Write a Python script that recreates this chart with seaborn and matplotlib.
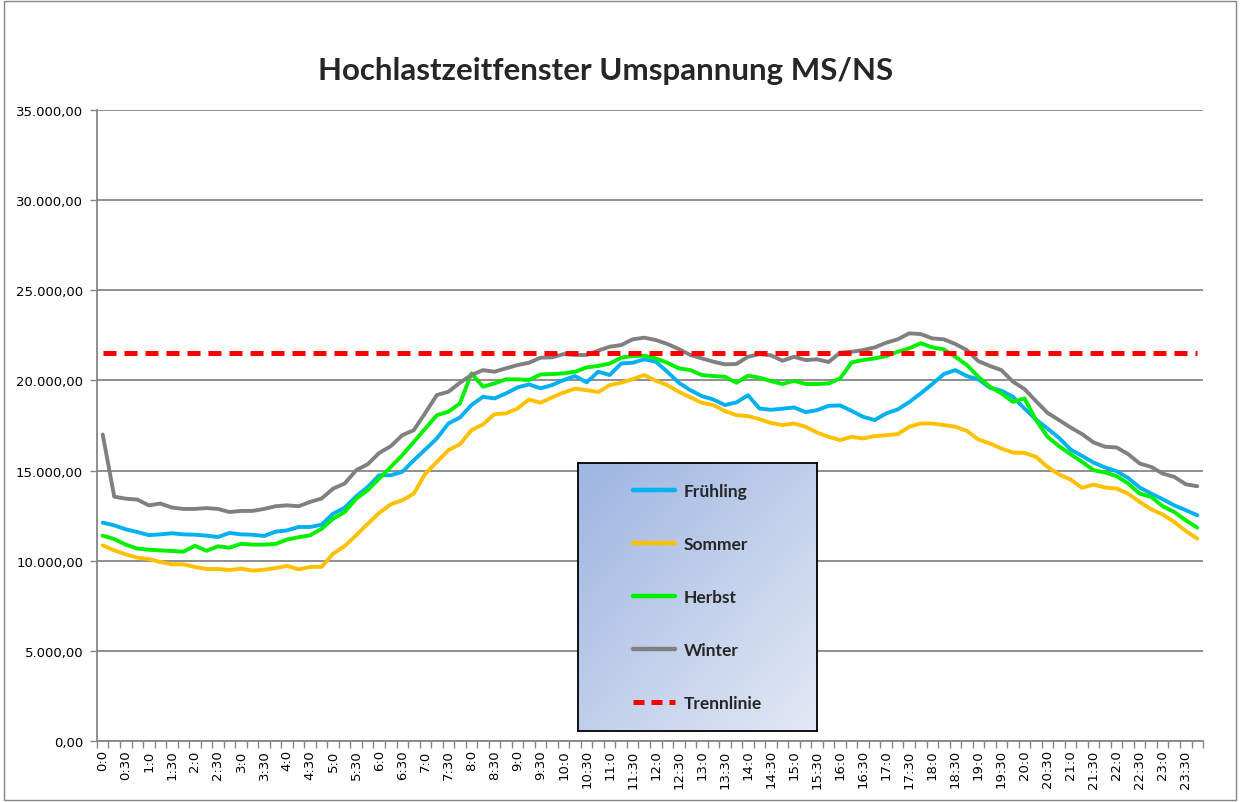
import numpy as np
import pandas as pd
import matplotlib
matplotlib.use('Agg')
import matplotlib.pyplot as plt
import seaborn as sns
from matplotlib.ticker import FuncFormatter, FixedLocator
from matplotlib.lines import Line2D
from matplotlib.colors import LinearSegmentedColormap
from matplotlib.patches import Rectangle

# Viertelstundenwerte (0:00 .. 23:45)
fruehling = [12110, 11960, 11740, 11590, 11420, 11460, 11520, 11460, 11440, 11390,
             11310, 11540, 11460, 11440, 11370, 11610, 11680, 11870, 11870, 12000,
             12610, 12940, 13570, 14090, 14740, 14740, 14930, 15570, 16170, 16780,
             17610, 17940, 18630, 19090, 19000, 19280, 19610, 19780, 19560,
             19740, 20020, 20240, 19890, 20480, 20300, 20940, 20980, 21170, 21040,
             20480, 19870, 19460, 19130, 18940, 18630, 18780, 19180, 18440, 18370,
             18430, 18500, 18240, 18350, 18590, 18610, 18310, 17980, 17800, 18170,
             18390, 18800, 19280, 19800, 20350, 20570, 20240, 20060, 19590,
             19430, 19090, 18440, 17830, 17330, 16810, 16170, 15810, 15440, 15170,
             14960, 14590, 14060, 13720, 13410, 13070, 12800, 12520]

sommer = [10850, 10570, 10350, 10170, 10090, 9930, 9800, 9800, 9650, 9540,
          9540, 9480, 9560, 9450, 9500, 9590, 9710, 9520, 9650, 9660,
          10390, 10810, 11410, 12050, 12650, 13130, 13350, 13720, 14830, 15480,
          16130, 16460, 17240, 17560, 18130, 18170, 18440, 18940, 18760,
          19060, 19330, 19540, 19460, 19350, 19740, 19870, 20070, 20300, 19980,
          19740, 19370, 19060, 18760, 18630, 18300, 18070, 18020, 17850, 17640,
          17520, 17610, 17430, 17110, 16870, 16690, 16870, 16780, 16910, 16960,
          17020, 17430, 17610, 17610, 17520, 17430, 17200, 16720, 16500,
          16220, 16000, 15980, 15760, 15200, 14780, 14500, 14040, 14220, 14060,
          14000, 13720, 13260, 12850, 12560, 12150, 11650, 11220]

herbst = [11390, 11200, 10890, 10670, 10610, 10570, 10540, 10500, 10830, 10550,
          10800, 10720, 10940, 10890, 10890, 10930, 11170, 11300, 11410, 11770,
          12330, 12700, 13440, 13910, 14560, 15200, 15850, 16590, 17330, 18070,
          18260, 18720, 20390, 19650, 19830, 20060, 20060, 20020, 20330,
          20350, 20390, 20480, 20720, 20800, 20940, 21260, 21350, 21370, 21220,
          20980, 20670, 20570, 20300, 20240, 20200, 19870, 20260, 20150, 19960,
          19800, 19980, 19800, 19800, 19830, 20110, 21000, 21130, 21220, 21350,
          21590, 21780, 22060, 21830, 21720, 21310, 20850, 20200, 19650,
          19280, 18810, 19000, 17800, 16870, 16350, 15910, 15480, 15020, 14890,
          14690, 14280, 13720, 13540, 13020, 12700, 12240, 11830]

winter = [17000, 13550, 13440, 13390, 13070, 13170, 12950, 12870, 12870, 12920,
          12870, 12700, 12760, 12760, 12870, 13020, 13070, 13020, 13260, 13450,
          14000, 14280, 15020, 15350, 15980, 16350, 16960, 17240, 18200, 19190,
          19370, 19870, 20300, 20570, 20480, 20670, 20850, 20980, 21260,
          21280, 21460, 21410, 21410, 21650, 21870, 21960, 22280, 22370, 22240,
          22020, 21740, 21410, 21220, 21040, 20890, 20910, 21310, 21460, 21390,
          21090, 21310, 21130, 21170, 21020, 21540, 21590, 21680, 21830, 22090,
          22280, 22610, 22570, 22330, 22280, 22020, 21680, 21070, 20800,
          20570, 19930, 19520, 18850, 18200, 17800, 17390, 17020, 16560, 16320,
          16280, 15910, 15390, 15200, 14830, 14650, 14240, 14130]

trennlinie = 21500

zeiten = [f"{h}:{m}" for h in range(24) for m in (0, 15, 30, 45)]
tick_labels = [z for z in zeiten if not z.endswith(':15') and not z.endswith(':45')]

saisons = ['Frühling', 'Sommer', 'Herbst', 'Winter']
farben = {'Frühling': '#00B0F0', 'Sommer': '#FFC000', 'Herbst': '#00F000', 'Winter': '#808080'}

df = pd.DataFrame({'idx': np.arange(len(zeiten)), 'Frühling': fruehling, 'Sommer': sommer,
                   'Herbst': herbst, 'Winter': winter})
df_long = df.melt(id_vars='idx', value_vars=saisons, var_name='saison', value_name='wert')

sns.set_theme(style='white')
plt.rcParams['font.family'] = ['DejaVu Sans']

fig = plt.figure(figsize=(12.4, 8.03), dpi=100, facecolor='white')
ax = fig.add_axes([0.0782, 0.0760, 0.892, 0.7858])

ax.yaxis.grid(True, color='#868686', linewidth=1.3)
ax.set_axisbelow(True)

sns.lineplot(data=df_long, x='idx', y='wert', hue='saison', hue_order=saisons,
             palette=farben, linewidth=2.8, legend=False, sort=False, ax=ax)
ax.hlines(trennlinie, df['idx'].iloc[0], df['idx'].iloc[-1], colors='#FF0000',
          linestyles=(0, (2.6, 1.6)), linewidth=3.6, zorder=3)

ax.set_xlim(-0.5, len(zeiten) - 0.5)
ax.set_ylim(0, 35000)
ax.set_yticks(np.arange(0, 35001, 5000))

def de_format(v, pos):
    s = f"{v:,.2f}"
    return s.replace(',', 'X').replace('.', ',').replace('X', '.')

ax.yaxis.set_major_formatter(FuncFormatter(de_format))
ax.xaxis.set_major_locator(FixedLocator(np.arange(0, len(zeiten), 2)))
ax.set_xticklabels(tick_labels, rotation=90)
ax.xaxis.set_minor_locator(FixedLocator(np.arange(-0.5, len(zeiten), 1)))
ax.tick_params(axis='x', which='major', length=0, pad=6, labelsize=9.5, colors='black')
ax.tick_params(axis='x', which='minor', length=5, width=1, color='#868686', bottom=True)
ax.tick_params(axis='y', which='major', length=5, width=1, color='#868686', left=True,
               labelsize=9.5, labelcolor='black', pad=5)
ax.set_xlabel('')
ax.set_ylabel('')
for s in ['top', 'right']:
    ax.spines[s].set_visible(False)
for s in ['left', 'bottom']:
    ax.spines[s].set_color('#868686')
    ax.spines[s].set_linewidth(1.3)

fig.text(0.488, 0.912, 'Hochlastzeitfenster Umspannung MS/NS', ha='center', va='center',
         fontsize=22.5, fontweight='bold', family=['Lato', 'DejaVu Sans'])

# Legende mit Farbverlauf
lax = fig.add_axes([0.4661, 0.0884, 0.1927, 0.3337])
verlauf = LinearSegmentedColormap.from_list('verlauf', ['#9DB5E1', '#E3E9F5'])
gx, gy = np.meshgrid(np.linspace(0, 1, 200), np.linspace(0, 1, 200))
lax.imshow((gx + gy) / 2, cmap=verlauf, aspect='auto', extent=[0, 1, 0, 1], origin='upper')
lax.set_xticks([])
lax.set_yticks([])
for s in lax.spines.values():
    s.set_color('black')
    s.set_linewidth(1.3)

handles = [Line2D([], [], color=farben[s], linewidth=3.2) for s in saisons]
handles.append(Line2D([], [], color='#FF0000', linewidth=3.6, linestyle=(0, (2.2, 1.4))))
labels = saisons + ['Trennlinie']
lax.legend(handles, labels, loc='center', frameon=False, handlelength=2.4,
           handletextpad=0.5, labelspacing=2.12,
           prop={'family': ['Lato', 'DejaVu Sans'], 'weight': 'bold', 'size': 12.5})

fig.add_artist(Rectangle((0.003, 0.002), 0.994, 0.996, transform=fig.transFigure,
                         fill=False, edgecolor='#868686', linewidth=1))

fig.savefig('out.png', dpi=100, facecolor='white')
